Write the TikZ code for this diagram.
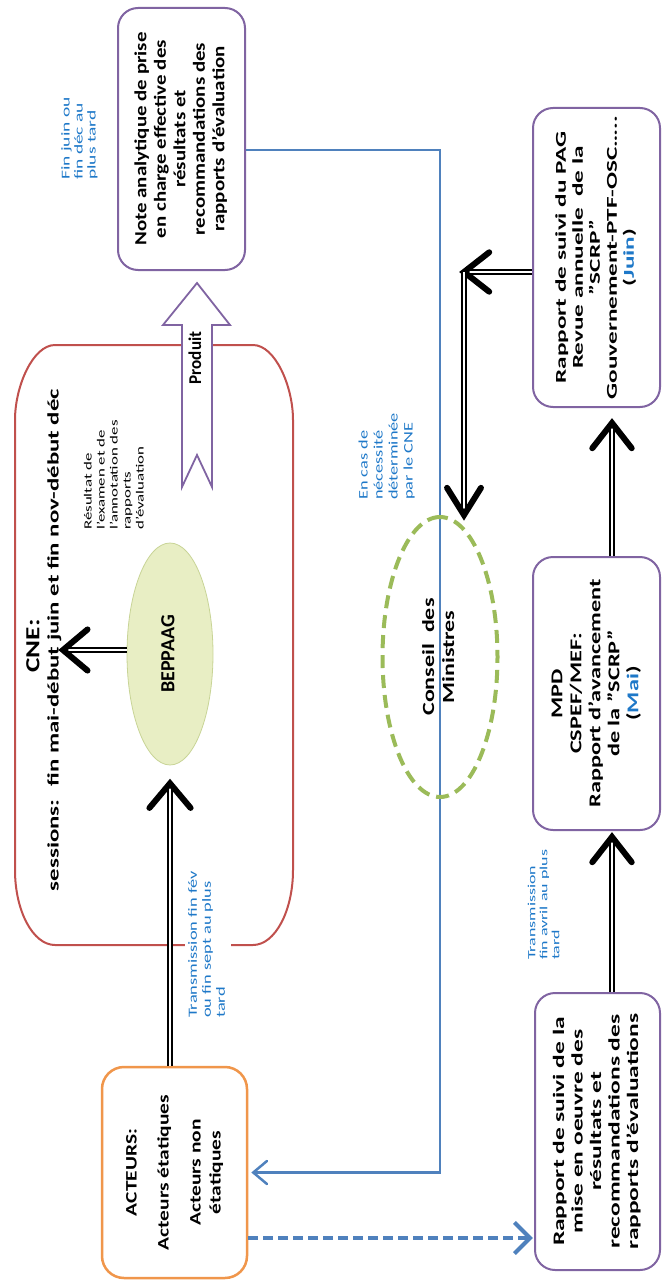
\documentclass[tikz,border=0pt]{standalone}
\usepackage{fontspec}
\setmainfont{Carlito}
\usepackage{graphicx}
\usetikzlibrary{calc,shapes.geometric}
\definecolor{purpleC}{RGB}{128,100,162}
\definecolor{redC}{RGB}{192,80,77}
\definecolor{orangeC}{RGB}{240,150,75}
\definecolor{greenC}{RGB}{155,187,89}
\definecolor{blueC}{RGB}{79,129,189}
\definecolor{blueT}{RGB}{30,120,200}
\definecolor{beppFill}{RGB}{232,238,196}
\definecolor{beppDraw}{RGB}{200,212,150}
\newcommand\blk[5]{\scalebox{#1}[1]{\fontsize{#2}{#3}\selectfont\begin{tabular}{@{}#4@{}}#5\end{tabular}}}
\newcommand\barb[5]{\draw[#5] ($(#2)!#3!#4:(#1)$) -- (#2) -- ($(#2)!#3!-#4:(#1)$);}
\begin{document}
\begin{tikzpicture}[x=1pt,y=-1pt,
  pbox/.style={draw=purpleC, line width=2pt, rounded corners=20pt, fill=white, rotate=90, inner sep=0pt, font=\bfseries},
  lbl/.style={rotate=90, inner sep=0pt},
  bluelbl/.style={lbl, text=blueT},
  dbl/.style={draw=black, line width=1.3pt, double=white, double distance=2.6pt},
  bigbarb/.style={draw=black, line width=6pt, line cap=round, line join=miter},
  bluebarb/.style={draw=blueC, line width=2.5pt, line cap=round, line join=miter},
  dashbarb/.style={draw=blueC, line width=4pt, line cap=butt, line join=miter},
  bline/.style={draw=blueC, line width=2.5pt},
  bdash/.style={draw=blueC, line width=4pt, dash pattern=on 10pt off 5pt}]
\useasboundingbox (0,0) rectangle (662,1287);

% CNE container
\draw[redC, line width=2pt] (55,345) -- (253,345) .. controls (275,345) and (293,386) .. (293,420) -- (293,870) .. controls (293,911) and (275,945) .. (253,945) -- (55,945) .. controls (33,945) and (15,911) .. (15,870) -- (15,420) .. controls (15,386) and (33,345) .. (55,345) -- cycle;

\coordinate (bx) at (440,150);
\coordinate (dy) at (0,1238);

% nodes
\node[pbox, minimum width=262pt, minimum height=127pt] (note) at (181.5,139) {\blk{1.23}{17}{19.5}{c}{Note analytique de prise\\en charge effective des\\résultats et\\recommandations des\\rapports d'évaluation}};

\node[bluelbl, anchor=west] (finjuin) at (80,180) {\blk{1.62}{12}{13}{l}{Fin juin ou\\fin déc au\\plus tard}};

\draw[purpleC, line width=1.8pt, fill=white, line join=miter] (197,283) -- (230,325) -- (212,325) -- (212,487) -- (197,455) -- (182,487) -- (182,325) -- (163,325) -- cycle;
\node[lbl, font=\bfseries] (produit) at (197,358) {\blk{0.95}{18}{20}{c}{Produit}};

\node[lbl, font=\bfseries] (cnetitle) at (35,646) {\blk{1.36}{20}{22}{c}{CNE:}};
\node[lbl, font=\bfseries] (cnesess) at (55,640) {\blk{1.55}{16}{18}{c}{sessions:~ fin mai-début juin et fin nov-début déc}};

\node[lbl, anchor=west] (resultat) at (115,530) {\blk{1.53}{11}{13}{l}{Résultat de\\l'examen et de\\l'annotation des\\rapports\\d'évaluation}};

\node[ellipse, draw=beppDraw, line width=0.8pt, fill=beppFill, rotate=90, minimum width=222pt, minimum height=86pt, inner sep=0pt, font=\bfseries] (beppaag) at (170,654) {\blk{1.0}{20}{22}{c}{BEPPAAG}};

\node[bluelbl, anchor=west, fill=white, inner sep=2pt] (transfev) at (208,1020) {\blk{1.47}{12.5}{14}{l}{Transmission fin fév\\ou fin sept au plus\\tard}};

\node[draw=orangeC, line width=2.5pt, rounded corners=22pt, fill=white, rotate=90, minimum width=211pt, minimum height=145pt, inner sep=0pt, font=\bfseries] (acteurs) at (174.5,1172.5) {\blk{1.34}{16}{20}{c}{ACTEURS:\\[12pt]Acteurs étatiques\\[12pt]Acteurs non\\étatiques}};

\node[bluelbl, anchor=west] (encas) at (387,500) {\blk{1.41}{13}{15}{l}{En cas de\\nécessité\\déterminée\\par le CNE}};

\node[pbox, minimum width=299pt, minimum height=127pt] (pag) at (596.5,257.5) {\blk{1.68}{15}{17}{c}{Rapport de suivi du PAG\\Revue annuelle~ de la\\"SCRP"\\Gouvernement-PTF-OSC…..\\(\textcolor{blueT}{Juin})}};

\node[pbox, minimum width=273pt, minimum height=127pt] (mpd) at (596.5,693.5) {\blk{1.47}{16.5}{19}{c}{MPD\\CSPEF/MEF:\\Rapport d'avancement\\de la "SCRP"\\(\textcolor{blueT}{Mai})}};

\node[bluelbl, anchor=west] (transavr) at (545,960) {\blk{1.63}{11}{12}{l}{Transmission\\fin avril au plus\\tard}};

\node[pbox, minimum width=277pt, minimum height=125pt] (suivi) at (597.5,1131.5) {\blk{1.59}{16}{18.5}{c}{Rapport de suivi de la\\mise en oeuvre des\\résultats et\\recommandations des\\rapports d'évaluations}};

% blue solid connector: note -> acteurs
\coordinate (bt) at ($(acteurs.south)+(5,0)$);
\coordinate (bs) at (bx |- acteurs.south);
\draw[bline] (note.south |- bx) -- (bx) -- (bs) -- (bt);
\barb{bs}{bt}{18pt}{40}{bluebarb}

\node[ellipse, draw=greenC, line width=4pt, dash pattern=on 13pt off 7pt, rotate=90, minimum width=280pt, minimum height=115pt, inner sep=0pt, font=\bfseries] (conseil) at (440,657) {\blk{1.41}{17}{20}{c}{Conseil~ des\\Ministres}};

% dashed blue: acteurs -> suivi
\coordinate (ds) at (acteurs.south |- dy);
\coordinate (dt) at ($(suivi.north |- dy)+(-4,0)$);
\draw[bdash] (ds) -- (dt);
\barb{ds}{dt}{22pt}{45}{dashbarb}

% double arrows
\coordinate (s1) at (acteurs.east -| beppaag.west);
\coordinate (t1) at ($(beppaag.west)+(0,18)$);
\draw[dbl] (s1) -- (t1);
\barb{s1}{t1}{32pt}{40}{bigbarb}

\coordinate (t2) at (63,650);
\coordinate (s2) at (beppaag.north |- t2);
\draw[dbl] (s2) -- (t2);
\barb{s2}{t2}{32pt}{40}{bigbarb}

\coordinate (elb) at (464,272);
\coordinate (s3) at (pag.north |- elb);
\draw[dbl] (s3) -- (elb);
\barb{s3}{elb}{32pt}{38}{bigbarb}

\coordinate (t4) at (elb |- conseil.east);
\draw[dbl] (elb) -- (t4);
\barb{elb}{t4}{32pt}{32}{bigbarb}

\coordinate (ax) at (612,0);
\coordinate (s5) at (mpd.east -| ax);
\coordinate (t5) at ($(pag.west -| ax)+(0,15)$);
\draw[dbl] (s5) -- (t5);
\barb{s5}{t5}{32pt}{38}{bigbarb}

\coordinate (s6) at (suivi.east -| ax);
\coordinate (t6) at ($(mpd.west -| ax)+(0,6)$);
\draw[dbl] (s6) -- (t6);
\barb{s6}{t6}{32pt}{38}{bigbarb}
\end{tikzpicture}
\end{document}
